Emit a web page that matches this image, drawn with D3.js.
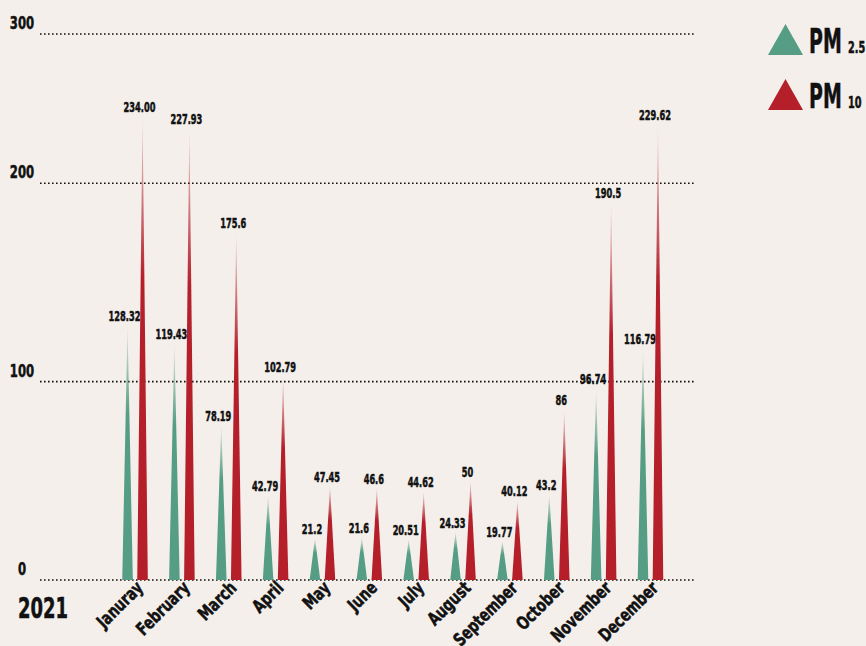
<!DOCTYPE html>
<html>
<head>
<meta charset="utf-8">
<script src="https://cdn.jsdelivr.net/npm/d3@7"></script>
<style>
  html, body { margin: 0; padding: 0; background: #f4efeb; }
  svg { display: block; }
  text { font-family: "Liberation Sans Narrow", "DejaVu Sans Condensed", "Roboto Condensed", sans-serif; font-weight: bold; font-stretch: condensed; fill: #111; stroke: #111; stroke-width: 0.5; }
</style>
</head>
<body>
<div id="chart"></div>
<script>
// months (typo kept as in the original)
var months = ["Januray", "February", "March", "April", "May", "June", "July", "August", "September", "October", "November", "December"];
var pm25 = [128.32, 119.43, 78.19, 42.79, 21.2, 21.6, 20.51, 24.33, 19.77, 43.2, 96.74, 116.79];
var pm10 = [234.00, 227.93, 175.6, 102.79, 47.45, 46.6, 44.62, 50, 40.12, 86, 190.5, 229.62];
var pm25Labels = ["128.32", "119.43", "78.19", "42.79", "21.2", "21.6", "20.51", "24.33", "19.77", "43.2", "96.74", "116.79"];
var pm10Labels = ["234.00", "227.93", "175.6", "102.79", "47.45", "46.6", "44.62", "50", "40.12", "86", "190.5", "229.62"];
var yTicks = [0, 100, 200, 300];
var yearLabel = "2021";

var width = 866, height = 646;
var green = "#559d84", red = "#b41f2a";

var svg = d3.select("#chart").append("svg").attr("width", width).attr("height", height);
svg.append("rect").attr("width", width).attr("height", height).attr("fill", "#f4efeb");

// gradients, the tips fade out
var defs = svg.append("defs");
function grad(id, color) {
    var g = defs.append("linearGradient").attr("id", id).attr("x1", 0).attr("y1", 1).attr("x2", 0).attr("y2", 0);
    g.append("stop").attr("offset", "0%").attr("stop-color", color).attr("stop-opacity", 1);
    g.append("stop").attr("offset", "65%").attr("stop-color", color).attr("stop-opacity", 1);
    g.append("stop").attr("offset", "100%").attr("stop-color", color).attr("stop-opacity", 0.1);
}
grad("gGreen", green);
grad("gRed", red);

// squeezed text, the original font is very narrow
function sq(x, y, sx, rot) {
    return "translate(" + x + "," + y + ")" + (rot ? " rotate(" + rot + ")" : "") + " scale(" + sx + ",1)";
}

// scales
var x = d3.scaleBand().domain(months).range([111.6, 673.9]).padding(0);
var y = d3.scaleLinear().domain([0, 250, 300]).range([580, 84, 34]);
var half = 5.3, off = 7.5;

// grid lines
svg.append("g").selectAll("line").data(yTicks).enter().append("line")
    .attr("x1", 40).attr("x2", 694)
    .attr("y1", function(d) { return y(d); }).attr("y2", function(d) { return y(d); })
    .attr("stroke", "#111").attr("stroke-width", 1.6).attr("stroke-dasharray", "1.6,2.4");

// y labels
svg.append("g").selectAll("text").data(yTicks).enter().append("text")
    .attr("transform", function(d) { return sq(22, y(d) - 5, 0.72); })
    .attr("text-anchor", "middle").attr("font-size", 18)
    .text(function(d) { return d; });

// triangle path
function tri(cx, v) {
    var p = d3.path();
    p.moveTo(cx - half, y(0));
    p.lineTo(cx, y(v));
    p.lineTo(cx + half, y(0));
    p.closePath();
    return p.toString();
}

var series = [
    {vals: pm25, labels: pm25Labels, dx: -off, fill: "url(#gGreen)"},
    {vals: pm10, labels: pm10Labels, dx: off, fill: "url(#gRed)"}
];

series.forEach(function(s) {
    var g = svg.append("g");
    g.selectAll("path").data(s.vals).enter().append("path")
        .attr("d", function(d, i) { return tri(x(months[i]) + x.bandwidth() / 2 + s.dx, d); })
        .attr("fill", s.fill);
    g.selectAll("text").data(s.vals).enter().append("text")
        .attr("transform", function(d, i) { return sq(x(months[i]) + x.bandwidth() / 2 + s.dx - 3, y(d) - 4, 0.68); })
        .attr("text-anchor", "middle").attr("font-size", 13.5).attr("stroke-width", 0.3)
        .text(function(d, i) { return s.labels[i]; });
});

// month labels, rotated
svg.append("g").selectAll("text").data(months).enter().append("text")
    .attr("transform", function(d) { return sq(x(d) + x.bandwidth() / 2 + 9, 589, 0.82, -45); })
    .attr("text-anchor", "end").attr("font-size", 18)
    .text(function(d) { return d; });

// year
svg.append("text").attr("transform", sq(18, 618, 0.69)).attr("font-size", 29).text(yearLabel);

// legend
var legend = [
    {name: "PM", sub: "2.5", color: green, y: 55},
    {name: "PM", sub: "10", color: red, y: 110}
];
var lg = svg.append("g");
legend.forEach(function(l) {
    lg.append("path").attr("d", "M768," + l.y + "L785.5," + (l.y - 31) + "L803," + l.y + "Z").attr("fill", l.color);
    lg.append("text").attr("transform", sq(809, l.y - 2, 0.62)).attr("font-size", 34).text(l.name);
    lg.append("text").attr("transform", sq(848, l.y - 2, 0.72)).attr("font-size", 15).text(l.sub);
});
</script>
</body>
</html>
